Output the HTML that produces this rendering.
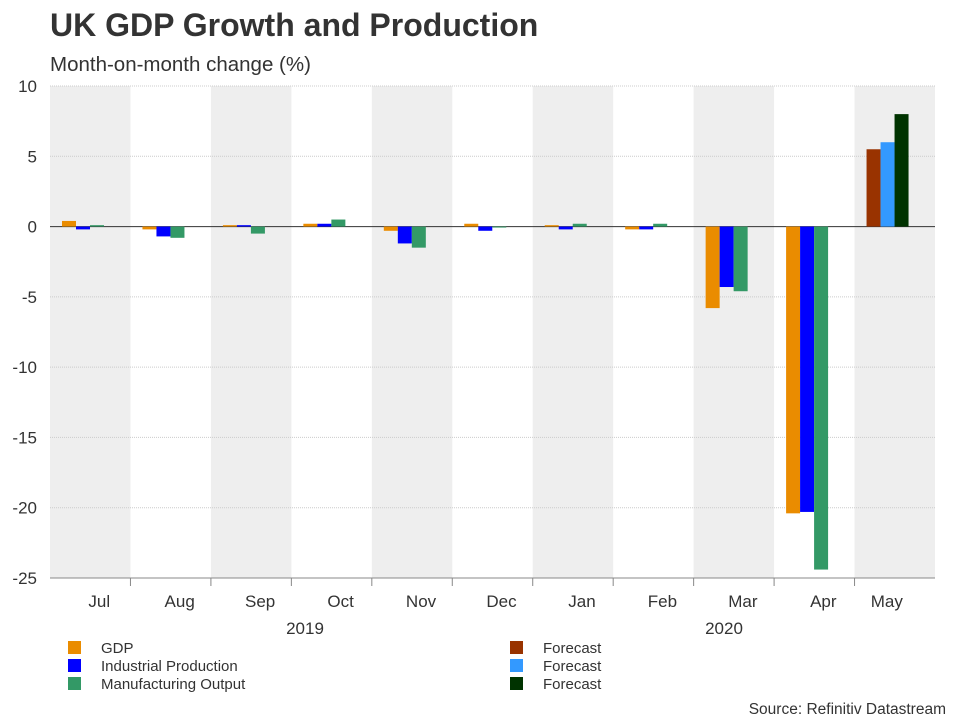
<!DOCTYPE html>
<html><head><meta charset="utf-8"><style>
body{margin:0;background:#fff;font-family:"Liberation Sans",sans-serif;}
svg text{font-family:"Liberation Sans",sans-serif;}
</style></head><body>
<svg id="c" width="960" height="720">
<text x="50" y="36" font-size="32" font-weight="bold" fill="#333">UK GDP Growth and Production</text>
<text x="50" y="71" font-size="20.5" fill="#333">Month-on-month change (%)</text>
<g id="plot"></g>
<text x="946" y="714" font-size="15.5" fill="#333" text-anchor="end">Source: Refinitiv Datastream</text>
</svg>
<script>
const months=["Jul","Aug","Sep","Oct","Nov","Dec","Jan","Feb","Mar","Apr","May"];
const gdp=[0.4,-0.2,0.1,0.2,-0.3,0.2,0.1,-0.2,-5.8,-20.4,null];
const ip=[-0.2,-0.7,0.1,0.2,-1.2,-0.3,-0.2,-0.2,-4.3,-20.3,null];
const mo=[0.1,-0.8,-0.5,0.5,-1.5,0.0,0.2,0.2,-4.6,-24.4,null];
const gdpF=[null,null,null,null,null,null,null,null,null,null,5.5];
const ipF=[null,null,null,null,null,null,null,null,null,null,6.0];
const moF=[null,null,null,null,null,null,null,null,null,null,8.0];
const yTicks=[10,5,0,-5,-10,-15,-20,-25];
const NS="http://www.w3.org/2000/svg";
const g=document.getElementById('plot');
const X0=50,X1=935,Y0=86,Y1=578,vMax=10,vMin=-25;
const bw=(X1-X0)/months.length;
const y=v=>Y0+(vMax-v)/(vMax-vMin)*(Y1-Y0);
const x=i=>X0+i*bw;
function el(t,a,txt){const e=document.createElementNS(NS,t);for(const k in a)e.setAttribute(k,a[k]);if(txt!=null)e.textContent=txt;g.appendChild(e);return e;}
months.forEach((m,i)=>{if(i%2==0){const r=el('rect',{x:x(i),y:Y0,width:bw,height:Y1-Y0,fill:'#eeeeee'});

}});
yTicks.forEach(t=>{const l=el('line',{x1:X0,x2:X1,y1:y(t),y2:y(t),stroke:t==0?'#333':'#ccc','stroke-width':1,'stroke-dasharray':t==0?'':'1,1'});


const tx=el('text',{x:37,y:y(t)+6,'font-size':17,fill:'#333','text-anchor':'end'},t);

});
const ax=el('line',{x1:X0,x2:X1,y1:Y1,y2:Y1,stroke:'#888'});


months.forEach((m,i)=>{
 if(i>0){const t=el('line',{x1:x(i),x2:x(i),y1:Y1,y2:Y1+8,stroke:'#888'});
 
 }
 const off=i==months.length-1?-8:9;
 const tx=el('text',{x:x(i)+bw/2+off,y:607,'font-size':17,fill:'#333','text-anchor':'middle'},m);
 
 
});
const yl1=el('text',{x:305,y:634,'font-size':17,fill:'#333','text-anchor':'middle'},'2019');


const yl2=el('text',{x:724,y:634,'font-size':17,fill:'#333','text-anchor':'middle'},'2020');


const series=[[gdp,'#ea8c00',0,'gdp'],[ip,'#0000ff',1,'industrial-production'],[mo,'#339966',2,'manufacturing-output'],
[gdpF,'#993300',0,'gdp-forecast'],[ipF,'#3399ff',1,'ip-forecast'],[moF,'#003300',2,'mo-forecast']];
const barW=14;
series.forEach(([arr,col,k,name])=>arr.forEach((v,i)=>{if(v==null)return;
 const y0=y(0),yv=y(v);
 const r=el('rect',{x:x(i)+12+k*barW,y:Math.min(y0,yv),width:barW,height:Math.max(1,Math.abs(yv-y0)),fill:col});
 
 
}));
const leg=[['GDP','#ea8c00',68,647],['Industrial Production','#0000ff',68,665],['Manufacturing Output','#339966',68,683],
['Forecast','#993300',510,647],['Forecast','#3399ff',510,665],['Forecast','#003300',510,683]];
leg.forEach(([t,c,lx,ly])=>{const r=el('rect',{x:lx,y:ly-6,width:13,height:13,fill:c});


const tx=el('text',{x:lx+33,y:ly+6,'font-size':15,fill:'#333'},t);

});
</script>
</body></html>
